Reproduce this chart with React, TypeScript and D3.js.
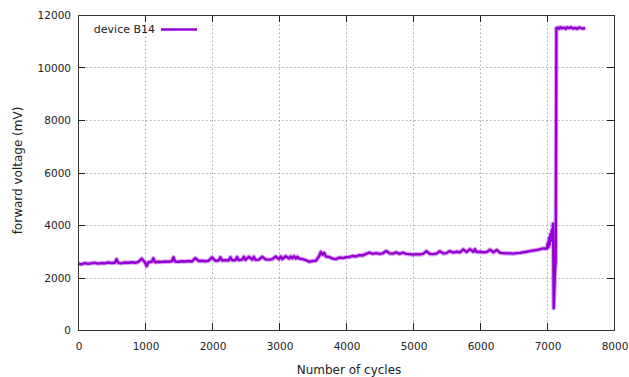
import React, { useRef, useEffect } from 'react';
import * as d3 from 'd3';

// [cycle, forward voltage in mV]
const baseline: [number, number][] = [
  [0, 2530], [50, 2500], [100, 2550], [150, 2520], [200, 2540], [250, 2560], [300, 2530], [350, 2550],
  [400, 2540], [450, 2570], [500, 2550], [550, 2560], [575, 2700], [600, 2560], [650, 2540], [700, 2570],
  [750, 2560], [800, 2580], [850, 2560], [900, 2590], [950, 2720], [1000, 2570], [1025, 2430], [1050, 2580],
  [1100, 2600], [1125, 2730], [1150, 2580], [1200, 2600], [1250, 2590], [1300, 2610], [1350, 2600],
  [1400, 2620], [1425, 2770], [1450, 2610], [1500, 2600], [1550, 2620], [1600, 2610], [1650, 2630],
  [1700, 2610], [1750, 2740], [1800, 2630], [1850, 2640], [1900, 2620], [1950, 2640], [2000, 2770],
  [2050, 2640], [2100, 2650], [2125, 2770], [2150, 2650], [2200, 2660], [2250, 2650], [2275, 2770],
  [2300, 2660], [2350, 2660], [2375, 2780], [2400, 2660], [2450, 2680], [2475, 2790], [2500, 2670],
  [2550, 2790], [2600, 2680], [2625, 2790], [2650, 2670], [2700, 2680], [2750, 2790], [2800, 2690],
  [2850, 2680], [2900, 2700], [2950, 2800], [3000, 2700], [3025, 2800], [3050, 2700], [3100, 2810],
  [3150, 2720], [3175, 2800], [3200, 2730], [3225, 2810], [3250, 2720], [3275, 2790], [3300, 2720],
  [3350, 2700], [3400, 2660], [3450, 2600], [3500, 2630], [3550, 2640], [3600, 2820], [3625, 2980],
  [3650, 2870], [3675, 2940], [3700, 2800], [3750, 2780], [3800, 2720], [3850, 2700], [3900, 2760],
  [3950, 2740], [4000, 2770], [4050, 2780], [4100, 2820], [4150, 2800], [4200, 2850], [4250, 2840],
  [4300, 2900], [4350, 2950], [4400, 2900], [4450, 2930], [4500, 2900], [4550, 2920], [4600, 3010],
  [4650, 2920], [4700, 2910], [4750, 2960], [4800, 2900], [4850, 2950], [4900, 2900], [4950, 2890],
  [5000, 2870], [5050, 2890], [5100, 2880], [5150, 2900], [5200, 3000], [5250, 2900], [5300, 2890],
  [5350, 2910], [5400, 3000], [5450, 2920], [5500, 2930], [5550, 3010], [5600, 2950], [5650, 2980],
  [5700, 2960], [5750, 3070], [5800, 2970], [5850, 3080], [5900, 2980], [5925, 3080], [5950, 2970],
  [6000, 2980], [6050, 2960], [6100, 2970], [6150, 3060], [6200, 2960], [6250, 3050], [6300, 2940],
  [6350, 2930], [6400, 2920], [6450, 2920], [6500, 2910], [6550, 2930], [6600, 2940], [6650, 2960],
  [6700, 2980], [6750, 3010], [6800, 3030], [6850, 3050], [6900, 3080], [6950, 3110], [7000, 3100],
];

const failure: [number, number][] = [
  [7010, 3300], [7020, 3150], [7030, 3500], [7040, 3250], [7050, 3650], [7060, 3400], [7070, 3800],
  [7080, 3600], [7090, 4050], [7095, 2600], [7100, 830], [7110, 1500], [7120, 2300], [7130, 2600],
];

const afterFailure: [number, number][] = [
  [7140, 11500], [7160, 11520], [7180, 11480], [7200, 11540], [7220, 11490], [7250, 11520],
  [7280, 11470], [7300, 11530], [7330, 11500], [7360, 11540], [7390, 11480], [7420, 11510],
  [7450, 11470], [7480, 11530], [7510, 11500], [7540, 11480], [7570, 11510],
];

const xTicks = [0, 1000, 2000, 3000, 4000, 5000, 6000, 7000, 8000];
const yTicks = [0, 2000, 4000, 6000, 8000, 10000, 12000];
const seriesName = "device B14";

export default function App() {
  const svgRef = useRef<SVGSVGElement>(null);

  useEffect(() => {
    const svg = d3.select(svgRef.current);
    svg.selectAll("*").remove();

    const width = 629;
    const height = 377;
    const margin = { top: 15, right: 15, bottom: 47, left: 78 };
    const font = "'DejaVu Sans', sans-serif";
    const purple = "#9400d3";

    const x = d3.scaleLinear().domain([0, 8000]).range([margin.left, width - margin.right]);
    const y = d3.scaleLinear().domain([0, 12000]).range([height - margin.bottom, margin.top]);

    const x0 = margin.left, x1 = width - margin.right;
    const y0 = height - margin.bottom, y1 = margin.top;

    // grid
    const grid = svg.append("g")
      .attr("stroke", "#a8a8a8")
      .attr("stroke-width", 1)
      .attr("stroke-dasharray", "1.5,2.5");
    grid.selectAll("line.gx")
      .data(xTicks.slice(1, -1))
      .join("line")
      .attr("x1", d => Math.round(x(d)) + 0.5)
      .attr("x2", d => Math.round(x(d)) + 0.5)
      .attr("y1", y0)
      .attr("y2", y1);
    grid.selectAll("line.gy")
      .data(yTicks.slice(1, -1))
      .join("line")
      .attr("class", "gy")
      .attr("y1", d => Math.round(y(d)) + 0.5)
      .attr("y2", d => Math.round(y(d)) + 0.5)
      .attr("x1", x0)
      .attr("x2", x1);

    // tick marks on all four sides, pointing inward
    const ticks = svg.append("g").attr("stroke", "#222").attr("stroke-width", 1);
    xTicks.forEach(t => {
      const px = Math.round(x(t)) + 0.5;
      ticks.append("line").attr("x1", px).attr("x2", px).attr("y1", y0).attr("y2", y0 - 7);
      ticks.append("line").attr("x1", px).attr("x2", px).attr("y1", y1).attr("y2", y1 + 7);
    });
    yTicks.forEach(t => {
      const py = Math.round(y(t)) + 0.5;
      ticks.append("line").attr("x1", x0).attr("x2", x0 + 7).attr("y1", py).attr("y2", py);
      ticks.append("line").attr("x1", x1).attr("x2", x1 - 7).attr("y1", py).attr("y2", py);
    });

    // data: soft halo + core, imitating the noisy band of the trace
    const line = d3.line<[number, number]>()
      .x(d => x(d[0]))
      .y(d => y(d[1]));
    const all = [...baseline, ...failure, ...afterFailure];
    svg.append("path")
      .datum(all)
      .attr("fill", "none")
      .attr("stroke", "#b040e0")
      .attr("stroke-opacity", 0.45)
      .attr("stroke-width", 4.6)
      .attr("stroke-linejoin", "round")
      .attr("d", line);
    svg.append("path")
      .datum(all)
      .attr("fill", "none")
      .attr("stroke", purple)
      .attr("stroke-width", 2.4)
      .attr("stroke-linejoin", "round")
      .attr("d", line);

    // border
    svg.append("rect")
      .attr("x", x0 + 0.5)
      .attr("y", y1 + 0.5)
      .attr("width", x1 - x0)
      .attr("height", y0 - y1)
      .attr("fill", "none")
      .attr("stroke", "#333")
      .attr("stroke-width", 1);

    // tick labels
    svg.append("g")
      .selectAll("text")
      .data(xTicks)
      .join("text")
      .attr("x", d => x(d) + 1)
      .attr("y", y0 + 20)
      .attr("text-anchor", "middle")
      .style("font-family", font)
      .style("font-size", "10.5px")
      .style("fill", "#222")
      .text(d => d);

    svg.append("g")
      .selectAll("text")
      .data(yTicks)
      .join("text")
      .attr("x", x0 - 7)
      .attr("y", d => y(d) + 4)
      .attr("text-anchor", "end")
      .style("font-family", font)
      .style("font-size", "10.5px")
      .style("fill", "#222")
      .text(d => d);

    // axis titles
    svg.append("text")
      .attr("x", (x0 + x1) / 2 + 3)
      .attr("y", height - 3)
      .attr("text-anchor", "middle")
      .style("font-family", font)
      .style("font-size", "12px")
      .style("fill", "#222")
      .text("Number of cycles");

    svg.append("text")
      .attr("transform", `translate(22,${(y0 + y1) / 2 - 2}) rotate(-90)`)
      .attr("text-anchor", "middle")
      .style("font-family", font)
      .style("font-size", "12px")
      .style("fill", "#222")
      .text("forward voltage (mV)");

    // legend
    svg.append("text")
      .attr("x", 155)
      .attr("y", 33)
      .attr("text-anchor", "end")
      .style("font-family", font)
      .style("font-size", "11px")
      .style("fill", "#222")
      .text(seriesName);
    svg.append("line")
      .attr("x1", 161)
      .attr("x2", 197)
      .attr("y1", 29.5)
      .attr("y2", 29.5)
      .attr("stroke", purple)
      .attr("stroke-width", 2.6);
  }, []);

  return (
    <div style={{ position: "absolute", left: 0, top: 0, background: "#fff" }}>
      <svg ref={svgRef} width={629} height={377} style={{ display: "block" }} />
    </div>
  );
}
